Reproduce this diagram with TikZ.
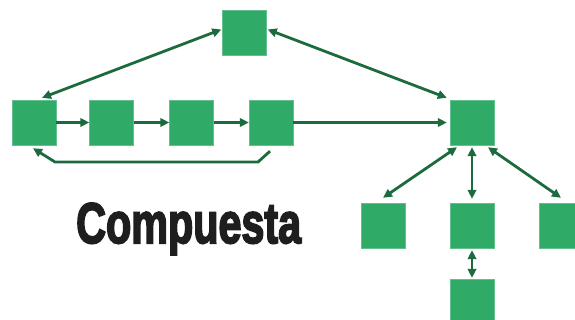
\documentclass[tikz,border=0pt]{standalone}
\usepackage{fontspec}
\usepackage{graphicx}
\usetikzlibrary{arrows.meta,calc}
\newfontfamily\headfont[FakeBold=3.5]{Liberation Sans Bold}
\definecolor{boxgreen}{HTML}{2FAA67}
\definecolor{arrgreen}{HTML}{1B6B3E}
\definecolor{txtblack}{HTML}{1E1E1E}
\begin{document}
\begin{tikzpicture}[x=1pt,y=-1pt,
  sq/.style={rectangle,fill=boxgreen,draw=boxgreen!75!white,line width=0.4pt,minimum width=44pt,minimum height=45pt,inner sep=0pt},
  conn/.style={draw=arrgreen,line width=2.8pt,-{Triangle[length=9pt,width=8.5pt]}},
  bconn/.style={draw=arrgreen,line width=2.8pt,{Triangle[length=9pt,width=8.5pt]}-{Triangle[length=9pt,width=8.5pt]}}]
\useasboundingbox (0,0) rectangle (575,320);
\node[sq] (top) at (244.5,32.5) {};
\node[sq] (b1) at (34,122.5) {};
\node[sq] (b2) at (111.5,122.5) {};
\node[sq] (b3) at (191.5,122.5) {};
\node[sq] (b4) at (271,122.5) {};
\node[sq] (r) at (472,122.5) {};
\node[sq] (c1) at (383,225.5) {};
\node[sq] (c2) at (472,225.5) {};
\node[sq] (c3) at (561,225.5) {};
\node[sq] (d) at (472,301.5) {};
\node[anchor=base west,inner sep=0pt,text=txtblack] (title) at (76,243)
  {\resizebox{225pt}{40pt}{\headfont Compuesta}};
% connectors
\draw[bconn] ($(top.west)+(-1,-3)$) -- ($(b1.north)+(8,-2)$);
\draw[bconn] ($(top.east)+(1,-3)$) -- ($(r.north west)+(-3,-2)$);
\draw[conn] (b1) -- (b2);
\draw[conn] (b2) -- (b3);
\draw[conn] (b3) -- (b4);
\draw[conn] (b4) -- ($(r.west)+(-3,0)$);
\coordinate (k1) at ($(b4.south)+(-1,6)$);
\coordinate (k2) at (258,162);
\coordinate (k3) at (55,162);
\draw[conn] (k1) -- (k2) -- (k3) -- ($(b1.south)+(-1,3)$);
\draw[bconn] ($(r.south)+(-15,2)$) -- ($(c1.north)+(0,-5)$);
\draw[bconn] ($(r.south)+(0,2)$) -- ($(c2.north)+(0,-4)$);
\draw[bconn] ($(r.south)+(16,2)$) -- ($(c3.north)+(0,-5)$);
\draw[bconn] ($(c2.south)+(0,2)$) -- ($(d.north)+(0,-1)$);
\end{tikzpicture}
\end{document}
